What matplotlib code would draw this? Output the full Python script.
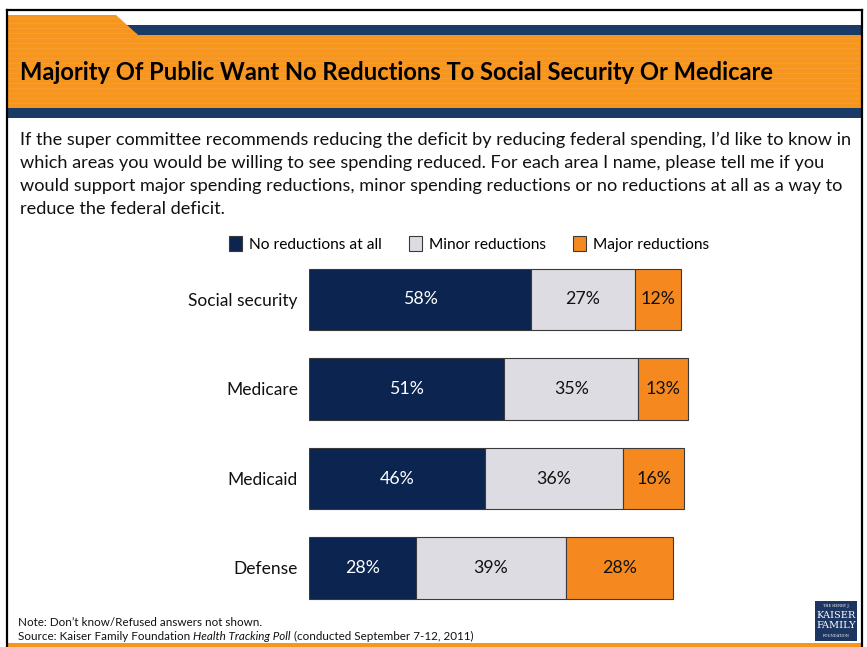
import matplotlib
matplotlib.use("Agg")
import matplotlib.pyplot as plt
from matplotlib.patches import Rectangle, Polygon, Patch
from matplotlib.transforms import Affine2D
from matplotlib.lines import Line2D

# ---- data ----
categories = ["Social security", "Medicare", "Medicaid", "Defense"]
no_reductions = [58, 51, 46, 28]
minor_reductions = [27, 35, 36, 39]
major_reductions = [12, 13, 16, 28]
series_names = ["No reductions at all", "Minor reductions", "Major reductions"]

title = "Majority Of Public Want No Reductions To Social Security Or Medicare"
question_lines = [
    "If the super committee recommends reducing the deficit by reducing federal spending, I\u2019d like to know in",
    "which areas you would be willing to see spending reduced. For each area I name, please tell me if you",
    "would support major spending reductions, minor spending reductions or no reductions at all as a way to",
    "reduce the federal deficit.",
]
note = "Note: Don\u2019t know/Refused answers not shown."
source_parts = ["Source: Kaiser Family Foundation ", "Health Tracking Poll",
                " (conducted September 7-12, 2011)"]

# ---- style ----
FONT = "Lato"
NAVY_BAR = "#0B2450"
GREY_BAR = "#DCDCE2"
ORANGE_BAR = "#F5891F"
HEADER_ORANGE = "#F7961F"
HEADER_NAVY = "#1A3B66"
EDGE = "#3a3a3a"

W, H = 867, 647
fig = plt.figure(figsize=(W / 100, H / 100), dpi=100)
fig.patch.set_facecolor("white")
T = Affine2D().scale(1 / W, -1 / H).translate(0, 1) + fig.transFigure
renderer = fig.canvas.get_renderer()


def fit(txt, target):
    w = txt.get_window_extent(renderer).width
    txt.set_fontsize(txt.get_fontsize() * target / w)
    return txt.get_fontsize()


# ---- header ----
fig.add_artist(Rectangle((116, 25), 746, 10, transform=T, color=HEADER_NAVY, lw=0))
fig.add_artist(Polygon([(8, 15), (116, 15), (138, 35), (862, 35), (862, 108), (8, 108)],
                       closed=True, transform=T, color=HEADER_ORANGE, lw=0))
for yy in range(18, 108, 5):
    fig.add_artist(Line2D([8, 862 if yy >= 35 else 116 + (yy - 15) * 1.1], [yy, yy],
                          transform=T, color="#F9AA4E", lw=0.6, alpha=0.45))
fig.add_artist(Rectangle((8, 108), 854, 10, transform=T, color=HEADER_NAVY, lw=0))

# border lines
fig.add_artist(Line2D([7, 7], [10, 647], transform=T, color="black", lw=1.6))
fig.add_artist(Line2D([7, 862], [10, 10], transform=T, color="black", lw=1.6))
fig.add_artist(Line2D([862, 862], [10, 647], transform=T, color="black", lw=1.6))
fig.add_artist(Rectangle((8, 643), 854, 4, transform=T, color=HEADER_ORANGE, lw=0))

t = fig.text(20, 73, title, transform=T, fontsize=15, fontweight="bold",
             family=FONT, color="black", va="center", ha="left")
fit(t, 757)

# ---- question text ----
t0 = fig.text(20, 140, question_lines[0], transform=T, fontsize=12, family=FONT,
              color="#111111", va="center", ha="left")
fs = fit(t0, 828)
for i, line in enumerate(question_lines[1:], start=1):
    fig.text(20, 140 + 23 * i, line, transform=T, fontsize=fs, family=FONT,
             color="#111111", va="center", ha="left")

# ---- chart ----
ax = fig.add_axes([309 / W, 34.25 / H, 383 / W, 358 / H])
y = list(range(len(categories)))
h = 0.69
left2 = [a for a in no_reductions]
left3 = [a + b for a, b in zip(no_reductions, minor_reductions)]
b1 = ax.barh(y, no_reductions, height=h, color=NAVY_BAR, edgecolor=EDGE, lw=0.8,
             label=series_names[0])
b2 = ax.barh(y, minor_reductions, left=left2, height=h, color=GREY_BAR, edgecolor=EDGE,
             lw=0.8, label=series_names[1])
b3 = ax.barh(y, major_reductions, left=left3, height=h, color=ORANGE_BAR, edgecolor=EDGE,
             lw=0.8, label=series_names[2])
ax.set_xlim(0, 100)
ax.set_ylim(3.5, -0.5)
for s in ax.spines.values():
    s.set_visible(False)
ax.set_xticks([])
ax.set_yticks(y)
ax.set_yticklabels(categories, family=FONT, fontsize=12.5, color="#111111")
ax.tick_params(axis="y", length=0, pad=8)

lab_fs = 12.8
ax.bar_label(b1, labels=[f"{v}%" for v in no_reductions], label_type="center",
             color="white", family=FONT, fontsize=lab_fs)
ax.bar_label(b2, labels=[f"{v}%" for v in minor_reductions], label_type="center",
             color="#111111", family=FONT, fontsize=lab_fs)
ax.bar_label(b3, labels=[f"{v}%" for v in major_reductions], label_type="center",
             color="#111111", family=FONT, fontsize=lab_fs)

handles = [Patch(facecolor=NAVY_BAR, edgecolor=EDGE, lw=0.8),
           Patch(facecolor=GREY_BAR, edgecolor=EDGE, lw=0.8),
           Patch(facecolor=ORANGE_BAR, edgecolor=EDGE, lw=0.8)]
leg = ax.legend(handles, series_names, ncol=3, loc="center",
                bbox_to_anchor=((469 - 309) / 383, (612.75 - 244) / 358),
                frameon=False, prop={"family": FONT, "size": 11.2},
                handlelength=0.85, handleheight=1.15, handletextpad=0.45,
                columnspacing=1.75, borderaxespad=0)

# ---- footer ----
fn = fig.text(18, 623, note, transform=T, fontsize=7, family=FONT, color="#111111",
              va="center", ha="left")
fs_f = fit(fn, 243)
x = 18
for i, part in enumerate(source_parts):
    tt = fig.text(x, 636, part, transform=T, fontsize=fs_f, family=FONT, color="#111111",
                  va="center", ha="left", style="italic" if i == 1 else "normal")
    x += tt.get_window_extent(renderer).width

# logo
fig.add_artist(Rectangle((815, 601), 42, 40, transform=T, color="#1C3561", lw=0))
fig.text(836, 606, "THE HENRY J.", transform=T, fontsize=2.6, color="white",
         family="DejaVu Serif", ha="center", va="center")
fig.text(836, 616, "KAISER", transform=T, fontsize=7, color="white",
         family="DejaVu Serif", ha="center", va="center")
fig.text(836, 626, "FAMILY", transform=T, fontsize=7, color="white",
         family="DejaVu Serif", ha="center", va="center")
fig.text(836, 636, "FOUNDATION", transform=T, fontsize=2.6, color="white",
         family="DejaVu Serif", ha="center", va="center")

fig.savefig("out.png", dpi=100, facecolor="white")
